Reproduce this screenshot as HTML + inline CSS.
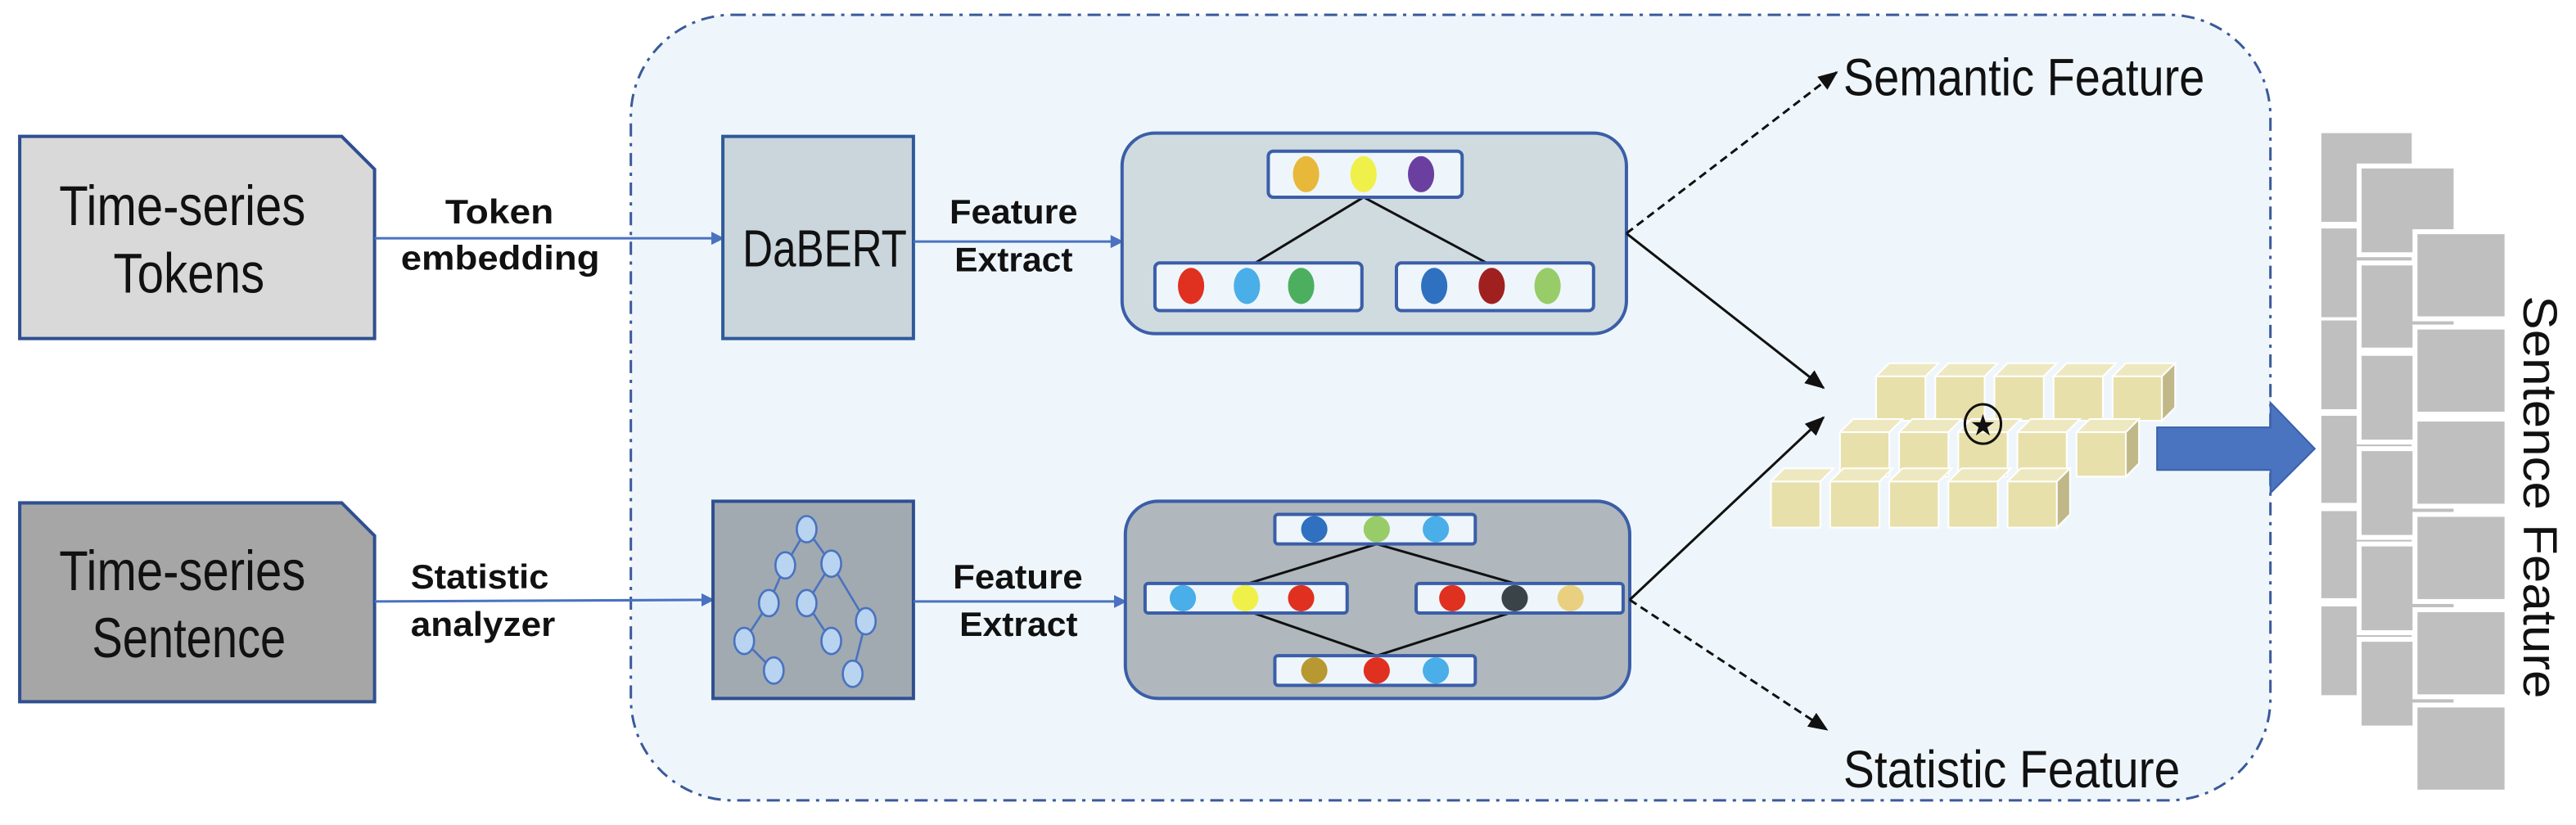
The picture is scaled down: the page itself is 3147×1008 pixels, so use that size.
<!DOCTYPE html>
<html><head><meta charset="utf-8"><style>
html,body{margin:0;padding:0;background:#fff;}
svg{display:block}
text{font-family:"Liberation Sans",sans-serif;fill:#111}
.b{font-weight:bold;font-size:21px}
</style></head><body>
<svg width="3147" height="1008" viewBox="0 0 1568 502" preserveAspectRatio="none" xmlns="http://www.w3.org/2000/svg">
<defs>
<marker id="ab" markerWidth="8" markerHeight="8" refX="7" refY="4" orient="auto" markerUnits="userSpaceOnUse"><path d="M0,0 L8,4 L0,8 z" fill="#4a72c0"/></marker>
<marker id="ak" markerWidth="12" markerHeight="10" refX="11" refY="5" orient="auto" markerUnits="userSpaceOnUse"><path d="M0,0 L12,5 L0,10 z" fill="#111"/></marker>
</defs>
<rect x="384" y="9" width="998" height="478" rx="62" fill="#eff6fb" stroke="#3a5a9a" stroke-width="1.5" stroke-dasharray="8,4,2,4"/>
<path d="M12,83 L208,83 L228,103 L228,206 L12,206 z" fill="#d9d9d9" stroke="#2f4f8f" stroke-width="2"/>
<text x="36" y="137" font-size="34" textLength="150" lengthAdjust="spacingAndGlyphs">Time-series</text>
<text x="69" y="178" font-size="34" textLength="92" lengthAdjust="spacingAndGlyphs">Tokens</text>
<path d="M12,306 L208,306 L228,326 L228,427 L12,427 z" fill="#a6a6a6" stroke="#2f4f8f" stroke-width="2"/>
<text x="36" y="359" font-size="34" textLength="150" lengthAdjust="spacingAndGlyphs">Time-series</text>
<text x="56" y="400" font-size="34" textLength="118" lengthAdjust="spacingAndGlyphs">Sentence</text>
<line x1="228" y1="145" x2="440" y2="145" stroke="#4a72c0" stroke-width="1.5" marker-end="url(#ab)"/>
<text class="b" x="271" y="136" textLength="66" lengthAdjust="spacingAndGlyphs">Token</text>
<text class="b" x="244" y="164" textLength="121" lengthAdjust="spacingAndGlyphs">embedding</text>
<line x1="228" y1="366" x2="434" y2="365" stroke="#4a72c0" stroke-width="1.5" marker-end="url(#ab)"/>
<text class="b" x="250" y="358" textLength="84" lengthAdjust="spacingAndGlyphs">Statistic</text>
<text class="b" x="250" y="387" textLength="88" lengthAdjust="spacingAndGlyphs">analyzer</text>
<rect x="440" y="83" width="116" height="123" fill="#cad5dc" stroke="#2f5a9a" stroke-width="2"/>
<text x="452" y="162" font-size="32" textLength="100" lengthAdjust="spacingAndGlyphs">DaBERT</text>
<rect x="434" y="305" width="122" height="120" fill="#a0aab0" stroke="#2f4f8f" stroke-width="2"/>
<g stroke="#4a72c0" stroke-width="1.3" fill="none">
<path d="M491,322 L478,344 M491,322 L506,343 M478,344 L468,367 L453,390 L471,408 M506,343 L491,367 L506,390 M506,343 L527,378 L519,410"/>
</g>
<g fill="#b8d4f0" stroke="#4a72c0" stroke-width="1.3">
<ellipse cx="491" cy="322" rx="6" ry="8"/><ellipse cx="478" cy="344" rx="6" ry="8"/><ellipse cx="506" cy="343" rx="6" ry="8"/>
<ellipse cx="468" cy="367" rx="6" ry="8"/><ellipse cx="491" cy="367" rx="6" ry="8"/><ellipse cx="527" cy="378" rx="6" ry="8"/>
<ellipse cx="453" cy="390" rx="6" ry="8"/><ellipse cx="506" cy="390" rx="6" ry="8"/><ellipse cx="471" cy="408" rx="6" ry="8"/><ellipse cx="519" cy="410" rx="6" ry="8"/>
</g>
<line x1="556" y1="147" x2="683" y2="147" stroke="#4a72c0" stroke-width="1.5" marker-end="url(#ab)"/>
<text class="b" x="578" y="136" textLength="78" lengthAdjust="spacingAndGlyphs">Feature</text>
<text class="b" x="581" y="165" textLength="72" lengthAdjust="spacingAndGlyphs">Extract</text>
<line x1="556" y1="366" x2="685" y2="366" stroke="#4a72c0" stroke-width="1.5" marker-end="url(#ab)"/>
<text class="b" x="580" y="358" textLength="79" lengthAdjust="spacingAndGlyphs">Feature</text>
<text class="b" x="584" y="387" textLength="72" lengthAdjust="spacingAndGlyphs">Extract</text>
<rect x="683" y="81" width="307" height="122" rx="20" fill="#d0dbe0" stroke="#3b5ea8" stroke-width="2"/>
<path d="M830,120 L764,160 M830,120 L905,160" stroke="#111" stroke-width="1.5" fill="none"/>
<rect x="772" y="92" width="118" height="28" rx="3" fill="#eef6fb" stroke="#3b5ea8" stroke-width="2"/>
<ellipse cx="795" cy="106" rx="8" ry="11" fill="#e8b83a"/><ellipse cx="830" cy="106" rx="8" ry="11" fill="#f0f04a"/><ellipse cx="865" cy="106" rx="8" ry="11" fill="#6b3fa0"/>
<rect x="703" y="160" width="126" height="29" rx="3" fill="#eef6fb" stroke="#3b5ea8" stroke-width="2"/>
<ellipse cx="725" cy="174" rx="8" ry="11" fill="#e03020"/><ellipse cx="759" cy="174" rx="8" ry="11" fill="#4aaee8"/><ellipse cx="792" cy="174" rx="8" ry="11" fill="#4caf60"/>
<rect x="850" y="160" width="120" height="29" rx="3" fill="#eef6fb" stroke="#3b5ea8" stroke-width="2"/>
<ellipse cx="873" cy="174" rx="8" ry="11" fill="#2f70c0"/><ellipse cx="908" cy="174" rx="8" ry="11" fill="#a02020"/><ellipse cx="942" cy="174" rx="8" ry="11" fill="#98cc68"/>
<rect x="685" y="305" width="307" height="120" rx="20" fill="#b0b8bd" stroke="#3b5ea8" stroke-width="2"/>
<path d="M838,331 L760,355 M838,331 L922,355 M838,399 L760,372 M838,399 L922,372" stroke="#111" stroke-width="1.5" fill="none"/>
<rect x="776" y="313" width="122" height="18" rx="2" fill="#eef6fb" stroke="#3b5ea8" stroke-width="2"/>
<ellipse cx="800" cy="322" rx="8" ry="8" fill="#2f70c0"/><ellipse cx="838" cy="322" rx="8" ry="8" fill="#98cc68"/><ellipse cx="874" cy="322" rx="8" ry="8" fill="#4aaee8"/>
<rect x="697" y="355" width="123" height="18" rx="2" fill="#eef6fb" stroke="#3b5ea8" stroke-width="2"/>
<ellipse cx="720" cy="364" rx="8" ry="8" fill="#4aaee8"/><ellipse cx="758" cy="364" rx="8" ry="8" fill="#f0f04a"/><ellipse cx="792" cy="364" rx="8" ry="8" fill="#e03020"/>
<rect x="862" y="355" width="126" height="18" rx="2" fill="#eef6fb" stroke="#3b5ea8" stroke-width="2"/>
<ellipse cx="884" cy="364" rx="8" ry="8" fill="#e03020"/><ellipse cx="922" cy="364" rx="8" ry="8" fill="#3a4448"/><ellipse cx="956" cy="364" rx="8" ry="8" fill="#e8d080"/>
<rect x="776" y="399" width="122" height="18" rx="2" fill="#eef6fb" stroke="#3b5ea8" stroke-width="2"/>
<ellipse cx="800" cy="408" rx="8" ry="8" fill="#b89830"/><ellipse cx="838" cy="408" rx="8" ry="8" fill="#e03020"/><ellipse cx="874" cy="408" rx="8" ry="8" fill="#4aaee8"/>
<line x1="990" y1="142" x2="1110" y2="236" stroke="#111" stroke-width="1.5" marker-end="url(#ak)"/>
<line x1="990" y1="142" x2="1118" y2="44" stroke="#111" stroke-width="1.5" stroke-dasharray="5,3" marker-end="url(#ak)"/>
<line x1="992" y1="365" x2="1110" y2="254" stroke="#111" stroke-width="1.5" marker-end="url(#ak)"/>
<line x1="992" y1="365" x2="1112" y2="444" stroke="#111" stroke-width="1.5" stroke-dasharray="5,3" marker-end="url(#ak)"/>
<text x="1122" y="58" font-size="32" textLength="220" lengthAdjust="spacingAndGlyphs">Semantic Feature</text>
<text x="1122" y="479" font-size="32" textLength="205" lengthAdjust="spacingAndGlyphs">Statistic Feature</text>
<g stroke="#ffffff" stroke-width="1">
<g fill="#e8e0aa">
<path d="M1142,229 l8,-8 h30 l-8,8z" fill="#eee8c0"/><rect x="1142" y="229" width="30" height="27"/>
<path d="M1178,229 l8,-8 h30 l-8,8z" fill="#eee8c0"/><rect x="1178" y="229" width="30" height="27"/>
<path d="M1214,229 l8,-8 h30 l-8,8z" fill="#eee8c0"/><rect x="1214" y="229" width="30" height="27"/>
<path d="M1250,229 l8,-8 h30 l-8,8z" fill="#eee8c0"/><rect x="1250" y="229" width="30" height="27"/>
<path d="M1286,229 l8,-8 h30 l-8,8z" fill="#eee8c0"/><rect x="1286" y="229" width="30" height="27"/>
<path d="M1316,229 l8,-8 v27 l-8,8z" fill="#c0b888"/>
<path d="M1120,263 l8,-8 h30 l-8,8z" fill="#eee8c0"/><rect x="1120" y="263" width="30" height="27"/>
<path d="M1156,263 l8,-8 h30 l-8,8z" fill="#eee8c0"/><rect x="1156" y="263" width="30" height="27"/>
<path d="M1192,263 l8,-8 h30 l-8,8z" fill="#eee8c0"/><rect x="1192" y="263" width="30" height="27"/>
<path d="M1228,263 l8,-8 h30 l-8,8z" fill="#eee8c0"/><rect x="1228" y="263" width="30" height="27"/>
<path d="M1264,263 l8,-8 h30 l-8,8z" fill="#eee8c0"/><rect x="1264" y="263" width="30" height="27"/>
<path d="M1294,263 l8,-8 v27 l-8,8z" fill="#c0b888"/>
<path d="M1078,293 l8,-8 h30 l-8,8z" fill="#eee8c0"/><rect x="1078" y="293" width="30" height="28"/>
<path d="M1114,293 l8,-8 h30 l-8,8z" fill="#eee8c0"/><rect x="1114" y="293" width="30" height="28"/>
<path d="M1150,293 l8,-8 h30 l-8,8z" fill="#eee8c0"/><rect x="1150" y="293" width="30" height="28"/>
<path d="M1186,293 l8,-8 h30 l-8,8z" fill="#eee8c0"/><rect x="1186" y="293" width="30" height="28"/>
<path d="M1222,293 l8,-8 h30 l-8,8z" fill="#eee8c0"/><rect x="1222" y="293" width="30" height="28"/>
<path d="M1252,293 l8,-8 v28 l-8,8z" fill="#c0b888"/>
</g>
</g>
<ellipse cx="1207" cy="258" rx="11" ry="12" fill="none" stroke="#111" stroke-width="1.5"/>
<text x="1207" y="265" font-size="18" text-anchor="middle" style="font-family:'DejaVu Sans',sans-serif">★</text>
<path d="M1313,260 H1382 V245 L1409,273 L1382,300 V286 H1313 z" fill="#4a74c0" stroke="#3a60a8" stroke-width="1"/>
<g fill="#bfbfbf">
<rect x="1413" y="81" width="55" height="54"/><rect x="1413" y="139" width="55" height="54"/><rect x="1413" y="195" width="55" height="54"/>
<rect x="1413" y="253" width="55" height="53"/><rect x="1413" y="311" width="55" height="53"/><rect x="1413" y="369" width="55" height="54"/>
</g>
<g fill="#bfbfbf" stroke="#fff" stroke-width="3">
<rect x="1436" y="101" width="59" height="54"/><rect x="1436" y="160" width="59" height="53"/><rect x="1436" y="215" width="59" height="54"/>
<rect x="1436" y="273" width="59" height="54"/><rect x="1436" y="331" width="59" height="54"/><rect x="1436" y="389" width="59" height="54"/>
</g>
<g fill="#bfbfbf" stroke="#fff" stroke-width="3">
<rect x="1470" y="141" width="56" height="53"/><rect x="1470" y="199" width="56" height="53"/><rect x="1470" y="255" width="56" height="53"/>
<rect x="1470" y="313" width="56" height="53"/><rect x="1470" y="371" width="56" height="53"/><rect x="1470" y="429" width="56" height="53"/>
</g>
<text transform="translate(1536,180) rotate(90)" font-size="29" textLength="245" lengthAdjust="spacingAndGlyphs">Sentence Feature</text>
</svg>
</body></html>
